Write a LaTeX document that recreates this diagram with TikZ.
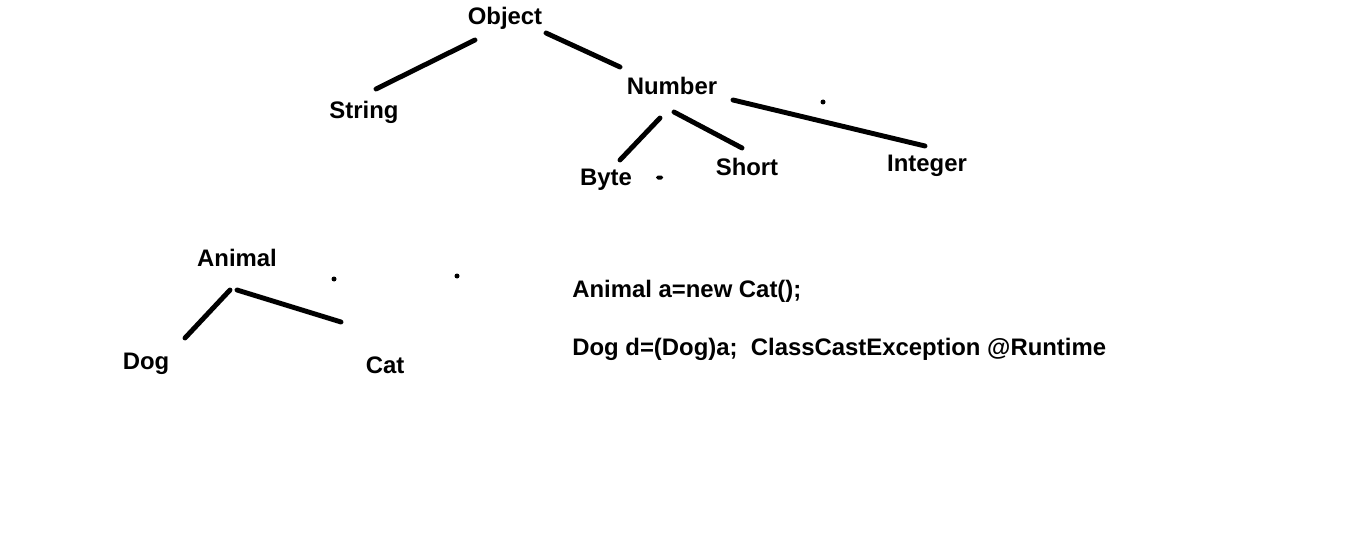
\documentclass[tikz,border=0pt]{standalone}
\usepackage{fontspec}
\setmainfont{Liberation Sans}

\begin{document}
\begin{tikzpicture}[x=0.02cm, y=-0.02cm,
    word/.style={font=\bfseries\fontsize{13.6}{16}\selectfont, inner sep=0pt, anchor=base},
    branch/.style={line width=2.8pt, line cap=round}]
    \useasboundingbox (0,0) rectangle (1349,544);
    % Draw number classes
    \node[word] (object) at (505,25) {Object};
    \node[word] (string) at (364,119) {String};
    \node[word] (number) at (672,94) {Number};
    \node[word] (byte) at (606,185) {Byte};
    \node[word] (short) at (747,175) {Short};
    \node[word] (integer) at (927,172) {Integer};
    % Draw animal classes
    \node[word] (animal) at (237,266) {Animal};
    \node[word] (dog) at (146,369) {Dog};
    \node[word] (cat) at (385,373) {Cat};
    % Draw casting code
    \node[word, anchor=base west] (upcast) at (572,297) {Animal a=new Cat();};
    \node[word, anchor=base west] (downcast) at (572,355) {Dog d=(Dog)a;\ \ ClassCastException @Runtime};
    % Branch ends
    \coordinate (object-l) at (475,40);
    \coordinate (string-t) at (376,89);
    \coordinate (object-r) at (546,33);
    \coordinate (number-t) at (620,67);
    \coordinate (number-bl) at (660,118);
    \coordinate (byte-t) at (620,160);
    \coordinate (number-b) at (674,112);
    \coordinate (short-t) at (742,148);
    \coordinate (number-r) at (733,100);
    \coordinate (integer-t) at (925,146);
    \coordinate (animal-l) at (230,290);
    \coordinate (dog-t) at (185,338);
    \coordinate (animal-r) at (237,290);
    \coordinate (cat-t) at (341,322);
    % Draw branches
    \draw[branch] (object-l) -- (string-t);
    \draw[branch] (object-r) -- (number-t);
    \draw[branch] (number-bl) -- (byte-t);
    \draw[branch] (number-b) -- (short-t);
    \draw[branch] (number-r) -- (integer-t);
    \draw[branch] (animal-l) -- (dog-t);
    \draw[branch] (animal-r) -- (cat-t);
    % Draw stray dots
    \fill (823,102) circle (2.5);
    \fill[rounded corners=1] (656,175.5) rectangle (663,179.5);
    \fill (334,279) circle (2.5);
    \fill (457,276) circle (2.5);
\end{tikzpicture}
\end{document}
